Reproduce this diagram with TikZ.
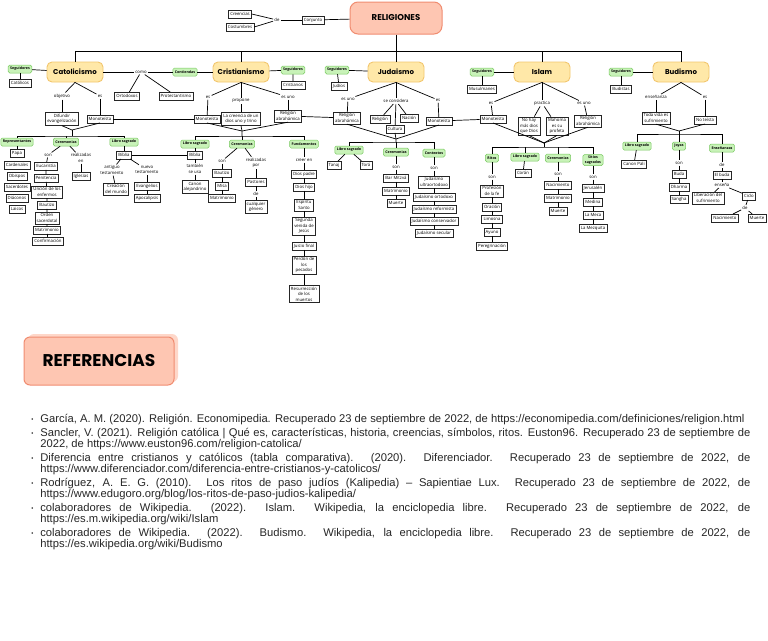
\documentclass[tikz,border=0pt]{standalone}
\usepackage{fontspec}
\setmainfont{Open Sans}
\newfontfamily\headfont{Poppins}
\newfontfamily\reffont{Liberation Sans}
\usetikzlibrary{shadows}
\definecolor{ylw}{HTML}{FFE8A8}
\definecolor{ylwline}{HTML}{F2C66E}
\definecolor{grn}{HTML}{C8F2B8}
\definecolor{grnline}{HTML}{78C860}
\definecolor{salmon}{HTML}{FEC6B2}
\definecolor{salmonline}{HTML}{F08C70}
\newcommand\refitem{\par\hangindent=9pt\hangafter=1\noindent\makebox[9pt][l]{\raisebox{1pt}{\fontsize{6}{6}\selectfont\textbullet}}}

\begin{document}
\begin{tikzpicture}[x=1pt,y=-1pt,line width=0.7pt,
  every node/.style={inner sep=0pt},
  root/.style={draw=salmonline,fill=salmon,line width=1pt,rounded corners=8pt,minimum width=92pt,minimum height=32pt,font=\headfont\bfseries\fontsize{8.5}{10}\selectfont},
  main/.style={draw=ylwline,fill=ylw,line width=0.9pt,rounded corners=5pt,minimum width=56pt,minimum height=20pt,font=\headfont\bfseries\fontsize{7}{8}\selectfont},
  grn/.style={draw=grnline,fill=grn,line width=0.5pt,rounded corners=1.5pt,inner xsep=2pt,inner ysep=1.5pt,minimum height=8pt,align=center,font=\bfseries\fontsize{3.6}{4.4}\selectfont},
  box/.style={draw=black!85,fill=white,line width=0.45pt,inner xsep=1.8pt,inner ysep=1.6pt,minimum height=7.5pt,align=center,font=\fontsize{4.3}{5.4}\selectfont,drop shadow={shadow xshift=0.6pt,shadow yshift=-0.6pt,fill=black!75,opacity=1}},
  lbl/.style={inner sep=1pt,align=center,font=\fontsize{4.3}{5.4}\selectfont}]
\useasboundingbox (0,0) rectangle (768,640);

\node[root] (rel) at (396,18) {RELIGIONES};
\node[box] (conj) at (313,20) {Conjunto};
\node[lbl] (de0) at (277,20) {de};
\node[box] (cree) at (240,14) {Creencias};
\node[box] (cost) at (240,27) {Costumbres};
\draw (cree.east) -- (de0);
\draw (cost.east) -- (de0);
\draw (de0) -- (conj);
\draw (conj) -- (rel);

\node[main] (cat) at (75,72) {Catolicismo};
\node[main] (cri) at (241,72) {Cristianismo};
\node[main] (jud) at (396,72) {Judaismo};
\node[main] (isl) at (542,72) {Islam};
\node[main] (bud) at (681,72) {Budismo};
\coordinate (top) at (0,51);
\draw (cat.north) |- (top -| bud.north) -- (bud.north);
\draw (cri.north) -- (cri.north |- top);
\draw (isl.north) -- (isl.north |- top);
\draw (rel.south) -- (jud.north);

\node[grn] (seg1) at (20,69) {Seguidores};
\node[box] (catolicos) at (20,83) {Católicos};
\draw (seg1) -- (cat);
\draw (seg1) -- (catolicos);
\node[lbl] (como) at (141,72) {como};
\node[grn] (contiendas) at (185,72) {Contiendas};
\draw (cat) -- (como) -- (contiendas) -- (cri);
\node[box] (ortodoxos) at (127,96) {Ortodoxos};
\node[box] (protes) at (176,96) {Protestantismo};
\draw (como) -- (ortodoxos);
\draw (como) -- (protes);
\node[lbl] (objetivo) at (62,96) {objetivo};
\node[lbl] (es1) at (100,96) {es};
\draw (cat.south) -- (objetivo);
\draw (cat.south) -- (es1);
\node[box] (difundir) at (62,119) {Difundir\\evangelización};
\node[box] (mono1) at (100,119) {Monoteísta};
\draw (objetivo) -- (difundir);
\draw (es1) -- (mono1);
\coordinate (j1) at (72,130);
\coordinate (bar1) at (72,136);
\draw (difundir.south) -- (j1) -- (mono1.south);
\draw (j1) -- (bar1);
\node[grn] (repr) at (17,142) {Representantes};
\node[grn] (cerem1) at (66,142) {Ceremonias};
\node[grn] (libro1) at (124,142) {Libro sagrado};
\draw (repr.north) |- (bar1) -| (libro1.north);
\draw (cerem1.north) -- (cerem1.north |- bar1);
\node[box] (papa) at (17,153) {Papa};
\node[box] (cardenales) at (17,165) {Cardenales};
\node[box] (obispos) at (17,176) {Obispos};
\node[box] (sacerdotes) at (17,187) {Sacerdotes};
\node[box] (diaconos) at (17,198) {Diáconos};
\node[box] (laicos) at (17,209) {Laicos};
\draw (repr) -- (papa);
\node[lbl] (son1) at (48,155) {son};
\node[lbl] (realiz1) at (81,158) {realizadas\\en};
\draw (cerem1) -- (son1);
\draw (cerem1) -- (realiz1);
\node[box] (iglesias) at (81,176) {Iglesias};
\draw (realiz1) -- (iglesias);
\node[box] (eucar) at (46,166) {Eucaristía};
\node[box] (penit) at (46,178) {Penitencia};
\node[box] (uncion) at (47,192) {Unción de los\\enfermos};
\node[box] (bautizo1) at (47,205) {Bautizo};
\node[box] (orden) at (47,218) {Orden\\sacerdotal};
\node[box] (matri1) at (47,230) {Matrimonio};
\node[box] (confir) at (48,241) {Confirmación};
\draw (son1) -- (eucar) -- (penit) -- (uncion) -- (bautizo1) -- (orden) -- (matri1) -- (confir);
\node[box] (biblia1) at (124,155) {Biblia};
\draw (libro1) -- (biblia1);
\node[lbl] (antiguo) at (112,170) {antiguo\\testamento};
\node[lbl] (nuevo) at (147,170) {nuevo\\testamento};
\draw (biblia1) -- (antiguo);
\draw (biblia1) -- (nuevo);
\node[box] (creacion) at (116,189) {Creación\\del mundo};
\node[box] (evang) at (147,186) {Evangelios};
\node[box] (apoc) at (147,198) {Apocalipsis};
\draw (antiguo) -- (creacion);
\draw (nuevo) -- (evang) -- (apoc);

\node[grn] (seg2) at (293,70) {Seguidores};
\node[box] (cristianos) at (293,85) {Cristianos};
\draw (cri) -- (seg2) -- (cristianos);
\node[lbl] (es2) at (208,97) {es};
\node[lbl] (propone) at (241,101) {propone};
\node[lbl] (esuno2) at (288,97) {es uno};
\draw (cri.south) -- (es2);
\draw (cri.south) -- (propone);
\draw (cri.south) -- (esuno2);
\node[box] (mono2) at (207,119) {Monoteísta};
\node[box] (creencia) at (241,119) {La creencia de un\\dios uno y trino};
\node[box] (abra2) at (288,116) {Religión\\abrahámica};
\draw (es2) -- (mono2);
\draw (propone) -- (creencia);
\draw (esuno2) -- (abra2);
\draw (mono1) -- (mono2);
\coordinate (j2) at (242,131);
\coordinate (bar2) at (242,136);
\draw (mono2.south) -- (j2) -- (abra2.south);
\draw (creencia.south) -- (j2) -- (bar2);
\node[grn] (libro2) at (195,144) {Libro sagrado};
\node[grn] (cerem2) at (242,144) {Ceremonias};
\node[grn] (fund) at (304,144) {Fundamentos};
\draw (libro2.north) |- (bar2) -| (fund.north);
\draw (cerem2.north) -- (bar2);
\node[box] (biblia2) at (195,155) {Biblia};
\draw (biblia1) -- (biblia2);
\node[lbl] (tambien) at (195,169) {también\\se usa};
\node[box] (canon) at (195,187) {Canon\\alejandrino};
\draw (libro2) -- (biblia2) -- (tambien) -- (canon);
\node[lbl] (son2) at (222,161) {son};
\node[lbl] (realiz2) at (256,163) {realizadas\\por};
\draw (cerem2) -- (son2);
\draw (cerem2) -- (realiz2);
\node[box] (bautizo2) at (222,173) {Bautizo};
\node[box] (misa) at (222,186) {Misa};
\node[box] (matri2) at (222,198) {Matrimonio};
\draw (son2) -- (bautizo2) -- (misa) -- (matri2);
\node[box] (pastores) at (256,182) {Pastores};
\node[lbl] (de2) at (256,194) {de};
\node[box] (genero) at (256,207) {cualquier\\género};
\draw (realiz2) -- (pastores) -- (de2) -- (genero);
\node[lbl] (creer) at (304,160) {creer en};
\node[box] (padre) at (304,174) {Dios padre};
\node[box] (hijo) at (304,187) {Dios hijo};
\node[box] (espiritu) at (304,205) {Espíritu\\Santo};
\node[box] (venida) at (304,226) {Segunda\\venida de\\Jesús};
\node[box] (juicio) at (304,246) {Juicio final};
\node[box] (perdon) at (304,265) {Perdón de\\los\\pecados};
\node[box] (resu) at (304,294) {Resurrección\\de los\\muertos};
\draw (fund) -- (creer) -- (padre) -- (hijo) -- (espiritu) -- (venida) -- (juicio) -- (perdon) -- (resu);

\node[grn] (seg3) at (337,70) {Seguidores};
\node[box] (judios) at (339,86) {Judíos};
\draw (seg3) -- (jud);
\draw (seg3) -- (judios);
\node[lbl] (esuno3) at (348,99) {es uno};
\node[lbl] (considera) at (396,101) {se considera};
\node[lbl] (es3) at (438,100) {es};
\draw (jud.south) -- (esuno3);
\draw (jud.south) -- (considera);
\draw (jud.south) -- (es3);
\node[box] (abra3) at (347,118) {Religión\\abrahámica};
\node[box] (religion) at (380,119) {Religión};
\node[box] (nacion) at (409,118) {Nación};
\node[box] (cultura) at (395,129) {Cultura};
\node[box] (mono3) at (439,121) {Monoteísta};
\draw (esuno3) -- (abra3);
\draw (considera) -- (religion);
\draw (considera) -- (nacion);
\draw (considera) -- (cultura);
\draw (es3) -- (mono3);
\draw (abra2) -- (abra3);
\coordinate (j3) at (396,139);
\coordinate (bar3) at (396,142);
\draw (abra3.south) -- (j3) -- (mono3.south);
\draw (cultura.south) -- (j3) -- (bar3);
\node[grn] (libro3) at (349,150) {Libro sagrado};
\node[grn] (cerem3) at (396,152) {Ceremonias};
\node[grn] (contextos) at (434,153) {Contextos};
\draw (libro3.north) |- (bar3) -| (contextos.north);
\draw (cerem3.north) -- (bar3);
\node[box] (tanaj) at (334,165) {Tanaj};
\node[box] (tora) at (366,165) {Torá};
\draw (libro3) -- (tanaj);
\draw (libro3) -- (tora);
\node[lbl] (son3) at (396,167) {son};
\node[box] (barmitzva) at (396,178) {Bar Mitzvá};
\node[box] (matri3) at (396,191) {Matrimonio};
\node[box] (muerte3) at (396,203) {Muerte};
\draw (cerem3) -- (son3) -- (barmitzva) -- (matri3) -- (muerte3);
\node[lbl] (son4) at (434,168) {son};
\node[box] (ultra) at (434,182) {Judaísmo\\ultraortodoxo};
\node[box] (ortod) at (434,197) {Judaísmo ortodoxo};
\node[box] (reform) at (434,209) {Judaísmo reformista};
\node[box] (conserv) at (434,221) {Judaísmo conservador};
\node[box] (secular) at (434,233) {Judaísmo secular};
\draw (contextos) -- (son4) -- (ultra) -- (ortod) -- (reform) -- (conserv) -- (secular);

\node[grn] (seg4) at (482,72) {Seguidores};
\node[box] (musul) at (482,89) {Musulmanes};
\draw (seg4) -- (isl);
\draw (seg4) -- (musul);
\node[lbl] (es4) at (491,103) {es};
\node[lbl] (practica) at (542,103) {practica};
\node[lbl] (esuno4) at (584,103) {es uno};
\draw (isl.south) -- (es4);
\draw (isl.south) -- (practica);
\draw (isl.south) -- (esuno4);
\node[box] (mono4) at (493,119) {Monoteísta};
\node[box] (nohay) at (529,126) {No hay\\más dios\\que Dios};
\node[box] (mahoma) at (557,126) {Mahoma\\es su\\profeta};
\node[box] (abra4) at (588,121) {Religión\\abrahámica};
\draw (es4) -- (mono4);
\draw (practica) -- (nohay);
\draw (practica) -- (mahoma);
\draw (esuno4) -- (abra4);
\draw (mono3) -- (mono4);
\coordinate (j4) at (544,143);
\coordinate (bar4) at (544,147);
\draw (mono4.south) -- (j4) -- (abra4.south);
\draw (nohay.south) -- (j4) -- (mahoma.south);
\draw (j4) -- (bar4);
\node[grn] (ritos) at (492,158) {Ritos};
\node[grn] (libro4) at (525,157) {Libro sagrado};
\node[grn] (cerem4) at (558,158) {Ceremonias};
\node[grn] (sitios) at (593,160) {Sitios\\sagrados};
\draw (ritos.north) |- (bar4) -| (sitios.north);
\draw (libro4.north) -- (libro4.north |- bar4);
\draw (cerem4.north) -- (cerem4.north |- bar4);
\node[lbl] (son5) at (492,177) {son};
\node[box] (profesion) at (492,191) {Profesión\\de la fe};
\node[box] (oracion) at (492,207) {Oración};
\node[box] (limosna) at (492,219) {Limosna};
\node[box] (ayuno) at (492,232) {Ayuno};
\node[box] (peregr) at (492,246) {Peregrinación};
\draw (ritos) -- (son5) -- (profesion) -- (oracion) -- (limosna) -- (ayuno) -- (peregr);
\node[box] (coran) at (523,173) {Corán};
\draw (libro4) -- (coran);
\node[lbl] (son6) at (558,174) {son};
\node[box] (nac4) at (558,185) {Nacimiento};
\node[box] (matri4) at (558,198) {Matrimonio};
\node[box] (muerte4) at (558,211) {Muerte};
\draw (cerem4) -- (son6) -- (nac4) -- (matri4) -- (muerte4);
\node[lbl] (son7) at (593,177) {son};
\node[box] (jerusalen) at (593,188) {Jerusalén};
\node[box] (medina) at (593,202) {Medina};
\node[box] (meca) at (593,215) {La Meca};
\node[box] (mezquita) at (593,228) {La Mezquita};
\draw (sitios) -- (son7) -- (jerusalen) -- (medina) -- (meca) -- (mezquita);

\node[grn] (seg5) at (621,72) {Seguidores};
\node[box] (budistas) at (621,89) {Budistas};
\draw (seg5) -- (bud);
\draw (seg5) -- (budistas);
\node[lbl] (ensenanza) at (656,97) {enseñanza};
\node[lbl] (es5) at (705,97) {es};
\draw (bud.south) -- (ensenanza);
\draw (bud.south) -- (es5);
\node[box] (toda) at (656,118) {Toda vida es\\sufrimiento};
\node[box] (noteista) at (705,120) {No teísta};
\draw (ensenanza) -- (toda);
\draw (es5) -- (noteista);
\coordinate (j5) at (679,131);
\coordinate (bar5) at (679,134);
\draw (toda.south) -- (j5) -- (noteista.south);
\draw (j5) -- (bar5);
\node[grn] (libro5) at (637,146) {Libro sagrado};
\node[grn] (joyas) at (679,146) {Joyas};
\node[grn] (ensenanzas) at (722,148) {Enseñanzas};
\draw (libro5.north) |- (bar5) -| (ensenanzas.north);
\draw (joyas.north) -- (bar5);
\node[box] (pali) at (634,164) {Canon Pali};
\draw (libro5) -- (pali);
\node[lbl] (son8) at (679,163) {son};
\node[box] (buda) at (679,174) {Buda};
\node[box] (dharma) at (679,187) {Dharma};
\node[box] (sangha) at (679,199) {Sangha};
\draw (joyas) -- (son8) -- (buda) -- (dharma) -- (sangha);
\node[lbl] (de5) at (722,165) {de};
\node[box] (elbuda) at (722,175) {El buda};
\node[lbl] (ensena) at (722,185) {enseña};
\node[box] (liber) at (708,198) {Liberación del\\sufrimiento};
\node[box] (ciclo) at (749,196) {Ciclo};
\node[lbl] (de6) at (745,208) {de};
\node[box] (nac5) at (725,218) {Nacimiento};
\node[box] (muerte5) at (757,218) {Muerte};
\draw (ensenanzas) -- (de5) -- (elbuda) -- (ensena);
\draw (ensena) -- (liber);
\draw (ensena) -- (ciclo) -- (de6);
\draw (de6) -- (nac5);
\draw (de6) -- (muerte5);

\node[draw=salmonline,fill=salmon,line width=1pt,rounded corners=6pt,minimum width=150pt,minimum height=48pt,
  drop shadow={shadow xshift=4pt,shadow yshift=3pt,fill=salmon!70,opacity=1},
  font=\headfont\bfseries\fontsize{17}{20}\selectfont] (reftitle) at (99,361) {REFERENCIAS};
\node[anchor=north west,text=black!85] (reflist) at (31,414) {\begin{minipage}{719pt}\reffont\fontsize{11.2}{11.5}\selectfont\setlength{\parskip}{2pt}
\refitem García, A. M. (2020). Religión. Economipedia. Recuperado 23 de septiembre de 2022, de https://economipedia.com/definiciones/religion.html
\refitem Sancler, V. (2021). Religión católica | Qué es, características, historia, creencias, símbolos, ritos. Euston96. Recuperado 23 de septiembre de\linebreak 2022, de https://www.euston96.com/religion-catolica/
\refitem Diferencia entre cristianos y católicos (tabla comparativa). (2020). Diferenciador. Recuperado 23 de septiembre de 2022, de\linebreak https://www.diferenciador.com/diferencia-entre-cristianos-y-catolicos/
\refitem Rodríguez, A. E. G. (2010). Los ritos de paso judíos (Kalipedia) – Sapientiae Lux. Recuperado 23 de septiembre de 2022, de\linebreak https://www.edugoro.org/blog/los-ritos-de-paso-judios-kalipedia/
\refitem colaboradores de Wikipedia. (2022). Islam. Wikipedia, la enciclopedia libre. Recuperado 23 de septiembre de 2022, de\linebreak https://es.m.wikipedia.org/wiki/Islam
\refitem colaboradores de Wikipedia. (2022). Budismo. Wikipedia, la enciclopedia libre. Recuperado 23 de septiembre de 2022, de\linebreak https://es.wikipedia.org/wiki/Budismo\par
\end{minipage}};
\end{tikzpicture}
\end{document}
